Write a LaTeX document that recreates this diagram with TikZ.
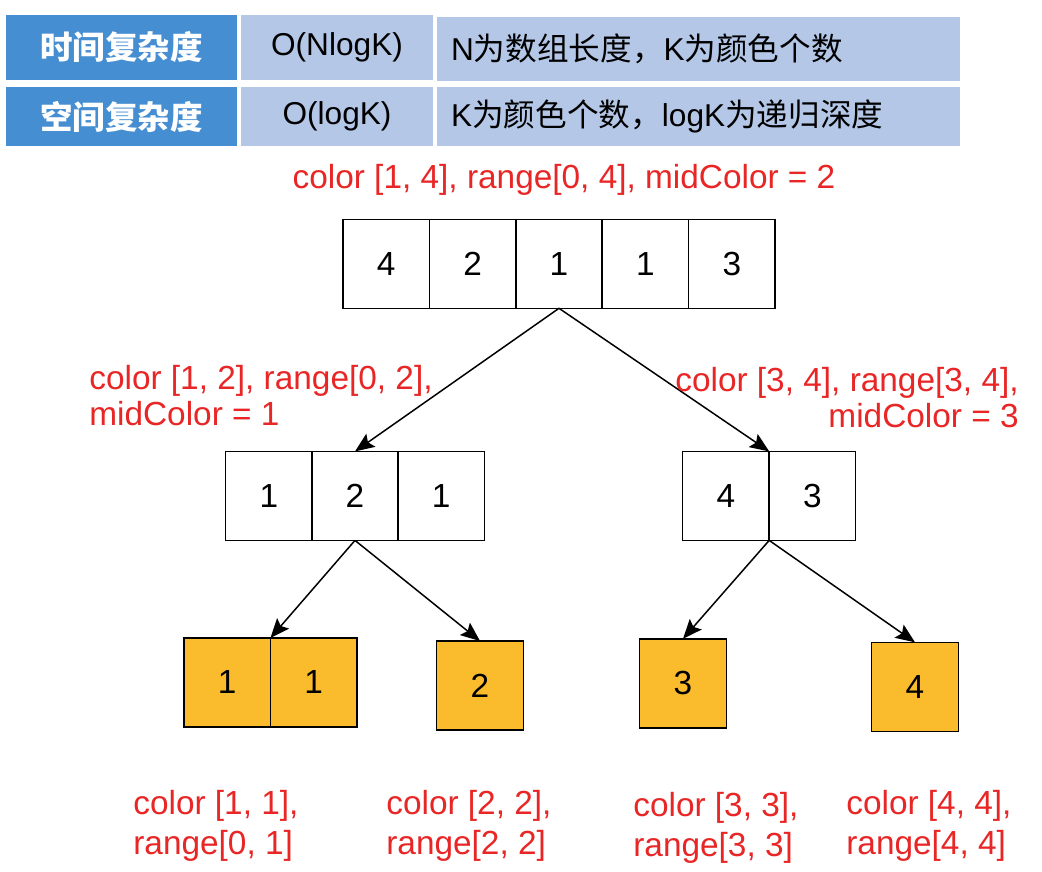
\documentclass[tikz,border=0pt]{standalone}
\usepackage{fontspec}
\setmainfont{Liberation Sans}
\newfontfamily\cjk{Noto Sans CJK SC}
\usetikzlibrary{arrows.meta, positioning}
\definecolor{hdblue}{RGB}{70,142,210}
\definecolor{rowblue}{RGB}{180,199,231}
\definecolor{leafgold}{RGB}{250,188,45}
\definecolor{notered}{RGB}{232,38,38}
\tikzset{cell/.style={draw,line width=0.8pt,minimum width=1.73cm,minimum height=1.78cm,
        inner sep=0pt,outer sep=0pt,font=\fontsize{19}{23}\selectfont},
    leaf/.style={cell,fill=leafgold},
    link/.style={-{Stealth[length=11pt,width=9pt,inset=2pt]},line width=0.85pt},
    note/.style={text=notered,inner sep=0pt,font=\fontsize{19}{22.5}\selectfont},
    note tight/.style={note,font=\fontsize{19}{20.5}\selectfont},
    headcell/.style={fill=hdblue,text=white,minimum width=4.62cm,inner sep=0pt,
        font=\fontsize{18.5}{20}\selectfont\cjk\bfseries},
    infocell/.style={fill=rowblue,inner sep=0pt,font=\fontsize{18}{20}\selectfont}}

\begin{document}
\begin{tikzpicture}[x=0.02cm,y=-0.02cm]
    \useasboundingbox (0,0) rectangle (1042,872);

    % Complexity table
    \node[headcell,minimum height=1.3cm] (timeH) at (121.5,47.5) {时间复杂度};
    \node[infocell,minimum width=3.84cm,minimum height=1.3cm] (timeO) at (337,47.5) {O(NlogK)};
    \node[infocell,minimum height=1.3cm,text width=9.9cm,inner xsep=0.28cm,align=left] (timeN)
        at (698.5,49) {N{\cjk 为数组长度，}K{\cjk 为颜色个数}};
    \node[headcell,minimum height=1.18cm] (spaceH) at (121.5,116.5) {空间复杂度};
    \node[infocell,minimum width=3.84cm,minimum height=1.18cm] (spaceO) at (337,116.5) {O(logK)};
    \node[infocell,minimum height=1.18cm,text width=9.9cm,inner xsep=0.28cm,align=left] (spaceN)
        at (698.5,116.5) {K{\cjk 为颜色个数，}logK{\cjk 为递归深度}};

    % Whole array
    \node[note] (lbl0) at (564,180) {color [1, 4], range[0, 4], midColor = 2};
    \foreach \v [count=\i] in {4,2,1,1,3}
        \node[cell] (t\i) at ({343+86.4*(\i-0.5)},263.8) {\v};

    % First split
    \foreach \v [count=\i] in {1,2,1}
        \node[cell] (a\i) at ({225.7+86.2*(\i-0.5)},495.9) {\v};
    \foreach \v [count=\i] in {4,3}
        \node[cell] (b\i) at ({682.7+86.5*(\i-0.5)},495.9) {\v};

    % Leaves: one colour each
    \node[leaf] (c1) at (227.2,682.5) {1};
    \node[leaf,right=0pt of c1] (c2) {1};
    \node[leaf] (d) at (480,685.5) {2};
    \node[leaf] (e) at (683,683.3) {3};
    \node[leaf] (f) at (915,686.8) {4};

    % Recursion arrows
    \draw[link] (t3.south) -- (a2.north);
    \draw[link] (t3.south) -- (b1.north east);
    \draw[link] (a2.south) -- (c1.north east);
    \draw[link] (a2.south) -- (d.north);
    \draw[link] (b1.south east) -- (e.north);
    \draw[link] (b1.south east) -- (f.north);

    % Ranges of each call
    \node[note tight,anchor=west,align=left] (lbl1) at (89,396) {color [1, 2], range[0, 2],\\midColor = 1};
    \node[note tight,anchor=east,align=right] (lbl2) at (1019,398) {color [3, 4], range[3, 4],\\midColor = 3};
    \node[note,anchor=west,align=left] (lbl3) at (133,826) {color [1, 1],\\range[0, 1]};
    \node[note,anchor=west,align=left] (lbl4) at (386,826) {color [2, 2],\\range[2, 2]};
    \node[note,anchor=west,align=left] (lbl5) at (633,828) {color [3, 3],\\range[3, 3]};
    \node[note,anchor=west,align=left] (lbl6) at (846,826) {color [4, 4],\\range[4, 4]};
\end{tikzpicture}
\end{document}
